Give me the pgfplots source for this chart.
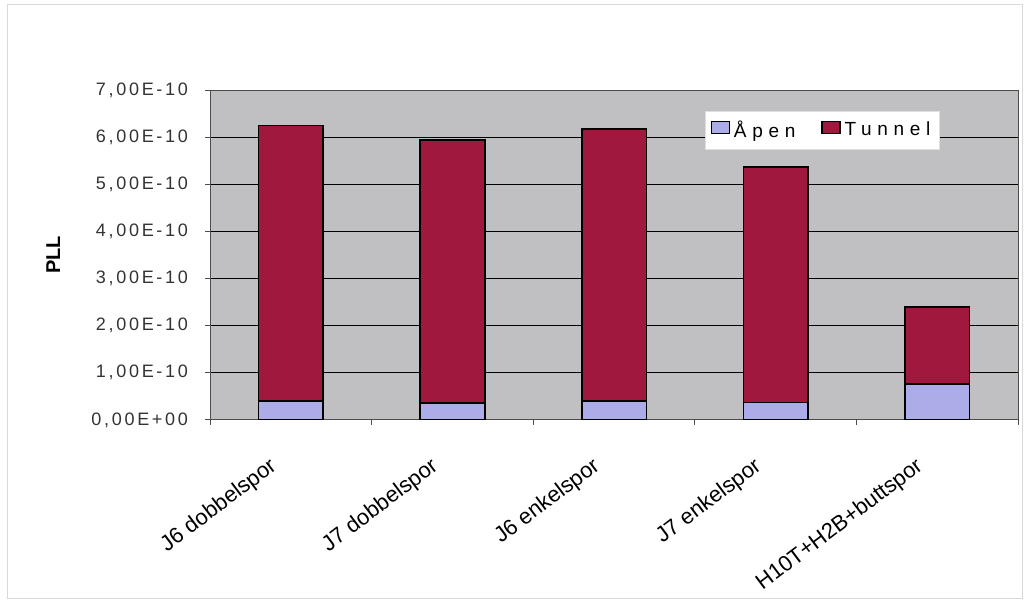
\documentclass[border=0pt]{standalone}
\usepackage{fontspec}
\setmainfont{Liberation Sans}
\newfontfamily\tickfont[LetterSpace=15]{Liberation Sans}
\newfontfamily\legfont[LetterSpace=30]{Liberation Sans}
\usepackage{pgfplots}
\pgfplotsset{compat=1.18}
\definecolor{bg}{RGB}{192,192,194}
\definecolor{tun}{RGB}{160,24,62}
\definecolor{apen}{RGB}{172,172,232}
\begin{document}
\begin{tikzpicture}
\path[use as bounding box] (0,0) rectangle (514pt,304pt);
\draw[gray!30] (3.5pt,5pt) rectangle (511pt,302pt);
\begin{axis}[at={(105pt,94pt)}, anchor=south west, scale only axis,
  width=404pt, height=165pt,
  ybar stacked, bar width=32.3pt,
  xmin=-0.5, xmax=4.5, ymin=0, ymax=7e-10,
  scaled y ticks=false,
  axis background/.style={fill=bg},
  axis line style={gray!60!black, line width=0.5pt},
  ymajorgrids, grid style={black, line width=0.5pt},
  ytick={0,1e-10,2e-10,3e-10,4e-10,5e-10,6e-10,7e-10},
  yticklabels={{0,00E+00},{1,00E-10},{2,00E-10},{3,00E-10},{4,00E-10},{5,00E-10},{6,00E-10},{7,00E-10}},
  yticklabel style={font=\tickfont\fontsize{9}{10}\selectfont, xshift=-5pt, text=black!80},
  xtick={-0.5,0.5,1.5,2.5,3.5,4.5}, xticklabels={},
  extra x ticks={0,1,2,3,4},
  extra x tick labels={J6 dobbelspor, J7 dobbelspor, J6 enkelspor, J7 enkelspor, H10T+H2B+buttspor},
  extra x tick style={tick style={draw=none}, xticklabel style={rotate=37, anchor=north east, font=\fontsize{11}{13}\selectfont, xshift=-15pt, yshift=-2pt}},
  xtick pos=bottom, ytick pos=left,
  tick align=outside, major tick length=2.5pt,
  tick style={gray!60!black, line width=0.5pt},
  ylabel={\textbf{PLL}},
  ylabel style={at={(axis description cs:-0.194,0.5)}, anchor=center, font=\fontsize{10}{12}\selectfont},
  legend style={at={(0.613,0.936)}, anchor=north west, legend columns=2,
    draw=gray!25, fill=white, font=\legfont\fontsize{9.5}{11}\selectfont,
    inner sep=2.5pt, /tikz/every even column/.append style={column sep=11pt}},
  legend image code/.code={\draw[#1, line width=0.6pt] (0pt,-1.5pt) rectangle (9pt,4.5pt);},
]
\addplot[fill=apen, draw=black, line width=0.8pt] coordinates {(0,0.40e-10) (1,0.36e-10) (2,0.40e-10) (3,0.37e-10) (4,0.76e-10)};
\addplot[fill=tun, draw=black, line width=0.8pt] coordinates {(0,5.85e-10) (1,5.58e-10) (2,5.77e-10) (3,5.00e-10) (4,1.64e-10)};
\legend{Åpen, Tunnel}
\end{axis}
\end{tikzpicture}
\end{document}
